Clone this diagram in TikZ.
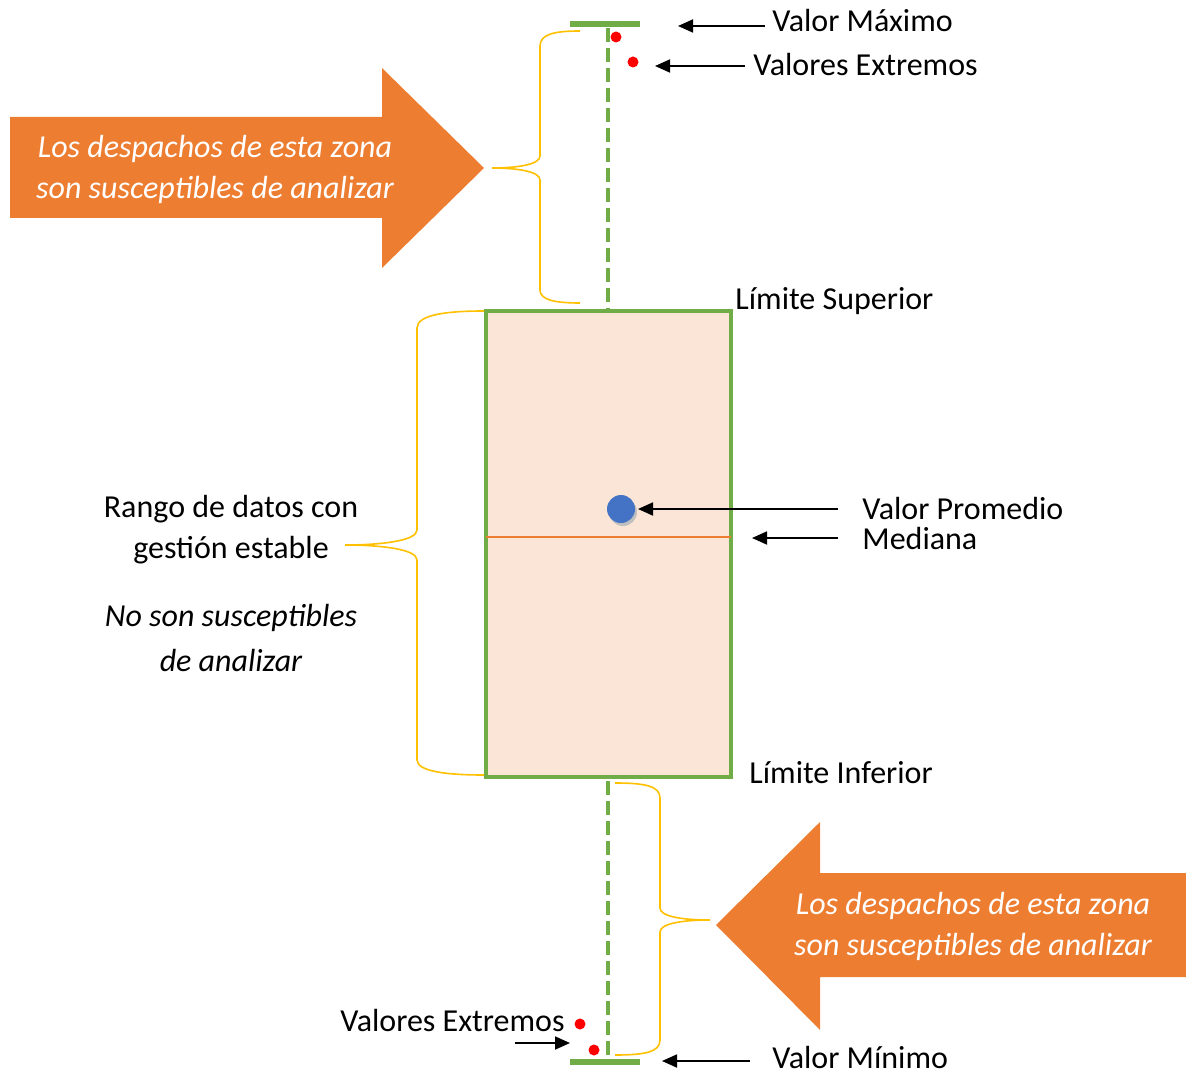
\documentclass[tikz,border=0pt]{standalone}
\usepackage{fontspec}
\setmainfont{Carlito}
\usepackage{xcolor}
\usepackage{tikz}
\usetikzlibrary{arrows.meta, positioning, calc}

\definecolor{boxgreen}{HTML}{70AD47}
\definecolor{zoneorange}{HTML}{ED7D31}
\definecolor{bracegold}{HTML}{FFC000}
\definecolor{boxfill}{HTML}{FBE5D6}
\definecolor{meanblue}{HTML}{4472C4}

\begin{document}
\begin{tikzpicture}[x=0.5pt, y=-0.5pt,
  lbl/.style={font=\fontsize{16}{20.5}\selectfont, inner sep=0pt},
  pointer/.style={-{Triangle[length=7.5pt,width=6.5pt]}, line width=0.9pt},
  whisker/.style={boxgreen, line width=2.3pt, dash pattern=on 7pt off 3pt},
  capline/.style={boxgreen, line width=2.6pt},
  brc/.style={bracegold, line width=0.8pt},
  outlier/.style={fill=red},
  zonetext/.style={font=\fontsize{16}{20.5}\selectfont\itshape, text=white, align=center}]
  \useasboundingbox (0,0) rectangle (1186,1074);

  % Box with median
  \draw[boxgreen, fill=boxfill, line width=2.4pt] (486,311) rectangle (731,777);
  \draw[zoneorange, line width=1.3pt] (486,537) -- (731,537);

  % Mean
  \fill[black!25] (623,512) circle[radius=14];
  \fill[meanblue] (621,509) circle[radius=14];

  % Whiskers and caps
  \draw[whisker] (608,28) -- (608,309);
  \draw[whisker] (608,781) -- (608,1060);
  \draw[capline] (570,24) -- (640,24);
  \draw[capline] (570,1062) -- (640,1062);

  % Outliers
  \fill[outlier] (616,37) circle[radius=5.5];
  \fill[outlier] (633,62) circle[radius=5.5];
  \fill[outlier] (580,1024) circle[radius=5.5];
  \fill[outlier] (594,1050) circle[radius=5.5];

  % Braces
  \draw[brc] (580,31) .. controls (555,31) and (540,34) .. (540,46) -- (540,156)
    .. controls (540,165) and (515,168) .. (492,168)
    .. controls (515,168) and (540,171) .. (540,180) -- (540,290)
    .. controls (540,300) and (555,303) .. (580,303);
  \draw[brc] (484,311) .. controls (450,311) and (417,314) .. (417,328) -- (417,530)
    .. controls (417,541) and (380,545) .. (345,545)
    .. controls (380,545) and (417,549) .. (417,560) -- (417,760)
    .. controls (417,772) and (450,775) .. (484,775);
  \draw[brc] (615,783) .. controls (645,783) and (660,786) .. (660,798) -- (660,908)
    .. controls (660,917) and (685,920) .. (710,920)
    .. controls (685,920) and (660,923) .. (660,932) -- (660,1040)
    .. controls (660,1052) and (645,1055) .. (615,1055);

  % Zone arrows
  \fill[zoneorange] (10,117) -- (382,117) -- (382,68) -- (484,168) -- (382,268)
    -- (382,218) -- (10,218) -- cycle;
  \node[zonetext] (zoneup) at (215,169) {Los despachos de esta zona\\son susceptibles de analizar};
  \fill[zoneorange] (1186,873) -- (820,873) -- (820,822) -- (716,925) -- (820,1030)
    -- (820,977) -- (1186,977) -- cycle;
  \node[zonetext] (zonedown) at (973,926) {Los despachos de esta zona\\son susceptibles de analizar};

  % Labels
  \node[lbl, anchor=west] (vmax) at (772,21) {Valor Máximo};
  \node[lbl, anchor=west] (vextup) at (753,65) {Valores Extremos};
  \node[lbl, anchor=west] (limsup) at (735,301) {Límite Superior};
  \node[lbl, anchor=west] (vprom) at (862,509) {Valor Promedio};
  \node[lbl, anchor=west] (mediana) at (862,539) {Mediana};
  \node[lbl, anchor=west] (liminf) at (749,773) {Límite Inferior};
  \node[lbl, anchor=east] (vextdown) at (565,1020) {Valores Extremos};
  \node[lbl, anchor=west] (vmin) at (772,1057) {Valor Mínimo};
  \node[lbl, align=center] (rango) at (231,530) {Rango de datos con\\gestión estable};
  \node[lbl, align=center, font=\fontsize{16}{22.5}\selectfont\itshape] (nosus) at (231,638)
    {No son susceptibles\\de analizar};

  % Pointers
  \coordinate (maxtip) at (678,26);
  \coordinate (extuptip) at (655,66);
  \coordinate (promtip) at (638,509);
  \coordinate (medtip) at (752,538);
  \coordinate (extdowntip) at (570,1043);
  \coordinate (mintip) at (662,1061);
  \draw[pointer] ($(vmax.west |- maxtip)+(-7,0)$) -- (maxtip);
  \draw[pointer] ($(vextup.west |- extuptip)+(-8,0)$) -- (extuptip);
  \draw[pointer] ($(vprom.west |- promtip)+(-24,0)$) -- (promtip);
  \draw[pointer] ($(mediana.west |- medtip)+(-24,0)$) -- (medtip);
  \draw[pointer] ($(extdowntip)+(-55,0)$) -- (extdowntip);
  \draw[pointer] ($(vmin.west |- mintip)+(-22,0)$) -- (mintip);
\end{tikzpicture}
\end{document}
